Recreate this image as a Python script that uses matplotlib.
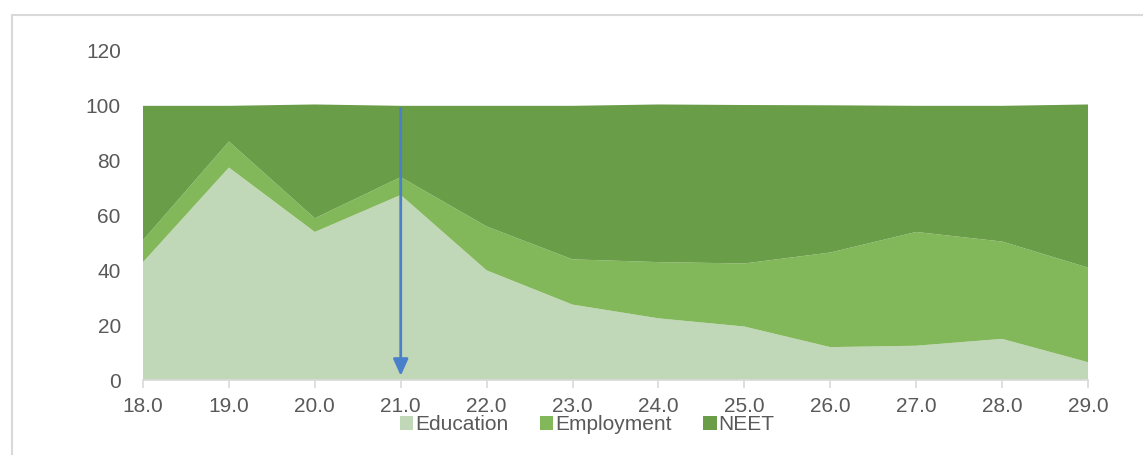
import matplotlib.pyplot as plt
from matplotlib.patches import Rectangle

plt.rcParams["font.family"] = ["Liberation Sans", "DejaVu Sans"]

ages = [18, 19, 20, 21, 22, 23, 24, 25, 26, 27, 28, 29]
education = [43, 77.5, 54, 67.5, 40, 27.5, 22.5, 19.5, 12, 12.5, 15, 6.5]
employment = [8, 9.5, 5, 6.5, 16, 16.5, 20.5, 23, 34.5, 41.5, 35.5, 34.5]
neet = [49, 13, 41.5, 26, 44, 56, 57.5, 57.8, 53.7, 46, 49.5, 59.5]
labels = ["Education", "Employment", "NEET"]
colors = ["#C0D8B8", "#82B75A", "#6A9D48"]
arrow_age = 21


def main():
    fig = plt.figure(figsize=(11.43, 4.55), dpi=100)
    ax = fig.add_axes([143 / 1143, 1 - 380 / 455, 945 / 1143, 329 / 455])

    ax.stackplot(ages, education, employment, neet, labels=labels, colors=colors)

    # arrow marking age 21
    ax.annotate(
        "",
        xy=(arrow_age, 0.5),
        xytext=(arrow_age, 100),
        arrowprops=dict(arrowstyle="-|>,head_width=0.45,head_length=1.0",
                        color="#4A7FCA", lw=2),
    )

    ax.set_xlim(18, 29)
    ax.set_ylim(0, 120)
    ax.set_xticks(ages)
    ax.set_xticklabels([f"{a:.1f}" for a in ages])
    ax.set_yticks(range(0, 121, 20))
    for s in ["top", "right", "left"]:
        ax.spines[s].set_visible(False)
    ax.spines["bottom"].set_color("#D9D9D9")
    ax.spines["bottom"].set_linewidth(1.2)
    ax.tick_params(axis="x", colors="#D9D9D9", labelcolor="#595959",
                   labelsize=15, length=6, width=1.2, pad=6)
    ax.tick_params(axis="y", length=0, labelcolor="#595959", labelsize=15, pad=16)

    ax.legend(loc="upper center", bbox_to_anchor=(0.47, -0.05), ncol=3,
              frameon=False, fontsize=15, labelcolor="#595959",
              handlelength=0.65, handleheight=0.65, handletextpad=0.1,
              columnspacing=1.5)

    fig.patches.append(Rectangle((12 / 1143, -0.05), 1.2, 1 - 15 / 455 + 0.05,
                                 transform=fig.transFigure, fill=False,
                                 edgecolor="#D9D9D9", lw=1.5))

    plt.savefig("out.png", dpi=100)


if __name__ == "__main__":
    main()
